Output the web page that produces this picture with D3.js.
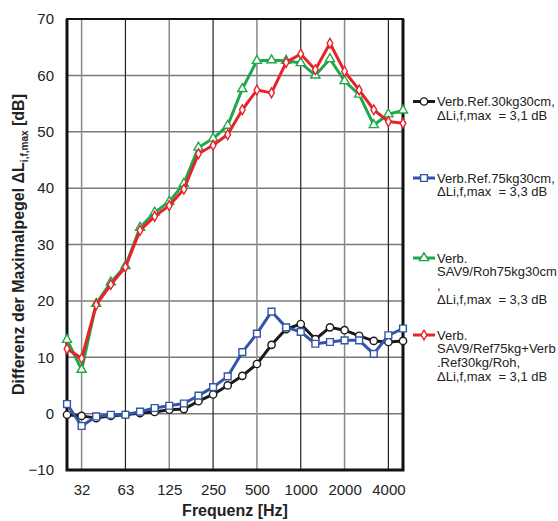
<!DOCTYPE html>
<html>
<head>
<meta charset="utf-8">
<script src="https://cdn.jsdelivr.net/npm/d3@7"></script>
<style>
  html, body { margin: 0; padding: 0; background: #fff; }
  svg { display: block; font-family: "Liberation Sans", Arial, sans-serif; }
</style>
</head>
<body>
<svg id="chart" width="558" height="521"></svg>
<script>
// Third-octave band centre frequencies (Hz)
const bands = ["25","31.5","40","50","63","80","100","125","160","200","250","315","400","500","630","800","1000","1250","1600","2000","2500","3150","4000","5000"];

// Labelled bands on the x axis
const tickBands = ["31.5","63","125","250","500","1000","2000","4000"];
const tickLabels = ["32","63","125","250","500","1000","2000","4000"];
// Octave lines drawn darker
const darkBands = ["63","250","1000","4000"];

const yTicks = [-10, 0, 10, 20, 30, 40, 50, 60, 70];

// Level differences per band (dB)
const refA = [-0.2,-0.4,-0.8,-0.4,-0.2,0.1,0.3,0.7,0.8,2.2,3.4,5.0,6.7,8.8,12.2,15.0,15.9,13.2,15.3,14.8,13.8,12.9,12.7,12.9];
const refB = [1.7,-2.2,-0.5,-0.2,-0.2,0.35,1.0,1.4,1.8,3.2,4.7,6.6,10.9,14.2,18.1,15.3,14.5,12.4,12.7,13.0,13.0,10.6,13.9,15.1];
const savRoh = [13.1,7.8,19.5,23.3,26.2,33.0,35.7,37.6,40.8,47.2,48.8,51.1,57.6,62.6,62.7,62.6,62.2,60.0,62.9,59.0,56.6,51.2,53.1,53.8];
const savRef = [11.5,9.8,19.3,22.9,26.0,32.5,35.0,36.9,39.8,46.1,47.6,49.5,53.9,57.4,56.9,62.3,63.8,61.0,65.7,60.7,57.4,53.9,51.8,51.5];

const series = [
  { lines: ["Verb.Ref.30kg30cm,", "\u0394Li,f,max\u00a0\u00a0= 3,1 dB"], values: refA, color: "#1a1a1a", symbol: "circle" },
  { lines: ["Verb.Ref.75kg30cm,", "\u0394Li,f,max\u00a0\u00a0= 3,3 dB"], values: refB, color: "#3355a8", symbol: "square" },
  { lines: ["Verb.", "SAV9/Roh75kg30cm", ",", "\u0394Li,f,max\u00a0\u00a0= 3,3 dB"], values: savRoh, color: "#1ea84c", symbol: "triangle" },
  { lines: ["Verb.", "SAV9/Ref75kg+Verb", ".Ref30kg/Roh,", "\u0394Li,f,max\u00a0\u00a0= 3,1 dB"], values: savRef, color: "#e8222a", symbol: "diamond" }
];

const svg = d3.select("#chart");
const plot = { left: 67, right: 403, top: 19, bottom: 470 };

const x = d3.scalePoint().domain(bands).range([plot.left, plot.right]).padding(0);
const y = d3.scaleLinear().domain([-10, 70]).range([plot.bottom, plot.top]);

// Grid
const grid = svg.append("g");
grid.selectAll("line.h").data(yTicks.slice(1, -1)).join("line")
  .attr("x1", plot.left).attr("x2", plot.right)
  .attr("y1", d => y(d)).attr("y2", d => y(d))
  .attr("stroke", "#7a7a7a").attr("stroke-width", 1.5);
grid.selectAll("line.v").data(tickBands).join("line")
  .attr("x1", d => x(d)).attr("x2", d => x(d))
  .attr("y1", plot.top).attr("y2", plot.bottom)
  .attr("stroke", d => darkBands.includes(d) ? "#222" : "#8a8a8a")
  .attr("stroke-width", d => darkBands.includes(d) ? 1.2 : 1.5);

// Axes (labels only; frame drawn separately)
const xAxis = d3.axisBottom(x).tickValues(tickBands)
  .tickFormat(d => tickLabels[tickBands.indexOf(d)]).tickSize(0).tickPadding(14);
svg.append("g").attr("transform", `translate(0,${plot.bottom})`).call(xAxis)
  .call(g => g.select(".domain").remove())
  .selectAll("text").attr("font-size", 15).attr("fill", "#222")
  .attr("font-family", "Liberation Sans, Arial, sans-serif");

const yAxis = d3.axisLeft(y).tickValues(yTicks).tickSize(0).tickPadding(13);
svg.append("g").attr("transform", `translate(${plot.left},0)`).call(yAxis)
  .call(g => g.select(".domain").remove())
  .selectAll("text").attr("font-size", 15).attr("fill", "#222")
  .attr("font-family", "Liberation Sans, Arial, sans-serif");

// Frame
svg.append("rect")
  .attr("x", plot.left).attr("y", plot.top)
  .attr("width", plot.right - plot.left).attr("height", plot.bottom - plot.top)
  .attr("fill", "none").attr("stroke", "#111").attr("stroke-width", 2);
svg.append("path")
  .attr("d", `M${plot.left},${plot.top}V${plot.bottom}H${plot.right}V${plot.top}`)
  .attr("fill", "none").attr("stroke", "#111").attr("stroke-width", 3);

// Symbols
const symbolType = { circle: d3.symbolCircle, square: d3.symbolSquare, triangle: d3.symbolTriangle, diamond: d3.symbolDiamond };
const symbolSize = { circle: 42, square: 46, triangle: 36, diamond: 28 };
function drawSymbol(g, s, cx, cy) {
  g.append("path")
    .attr("d", d3.symbol().type(symbolType[s.symbol]).size(symbolSize[s.symbol])())
    .attr("transform", `translate(${cx},${cy})`)
    .attr("fill", "#fff").attr("stroke", s.color).attr("stroke-width", 1.4);
}

// Series
const line = d3.line().x((d, i) => x(bands[i])).y(d => y(d));
series.forEach(s => {
  const g = svg.append("g");
  g.append("path").datum(s.values).attr("d", line)
    .attr("fill", "none").attr("stroke", s.color).attr("stroke-width", 3)
    .attr("stroke-linejoin", "round");
  s.values.forEach((v, i) => drawSymbol(g, s, x(bands[i]), y(v)));
});

// Legend
const legendY = [101.5, 178, 258, 335];
const legend = svg.append("g");
series.forEach((s, k) => {
  const ly = legendY[k];
  legend.append("line").attr("x1", 413).attr("x2", 435).attr("y1", ly).attr("y2", ly)
    .attr("stroke", s.color).attr("stroke-width", 3);
  drawSymbol(legend, s, 424, ly);
  const t = legend.append("text").attr("x", 437).attr("y", ly + 4.5)
    .attr("font-size", 13).attr("fill", "#222");
  s.lines.forEach((ln, j) => {
    t.append("tspan").attr("x", 437).attr("dy", j === 0 ? 0 : 13.7).text(ln);
  });
});

// Axis titles
svg.append("text")
  .attr("x", 235).attr("y", 516).attr("text-anchor", "middle")
  .attr("font-size", 16).attr("font-weight", "bold").attr("fill", "#222")
  .text("Frequenz [Hz]");

const yt = svg.append("text")
  .attr("transform", `translate(24,${(plot.top + plot.bottom) / 2}) rotate(-90)`)
  .attr("text-anchor", "middle")
  .attr("font-size", 16).attr("font-weight", "bold").attr("fill", "#222");
yt.append("tspan").text("Differenz der Maximalpegel \u0394L");
yt.append("tspan").attr("font-size", 10).attr("dy", 4).text("i,f,max");
yt.append("tspan").attr("dy", -4).text(" [dB]");
</script>
</body>
</html>
